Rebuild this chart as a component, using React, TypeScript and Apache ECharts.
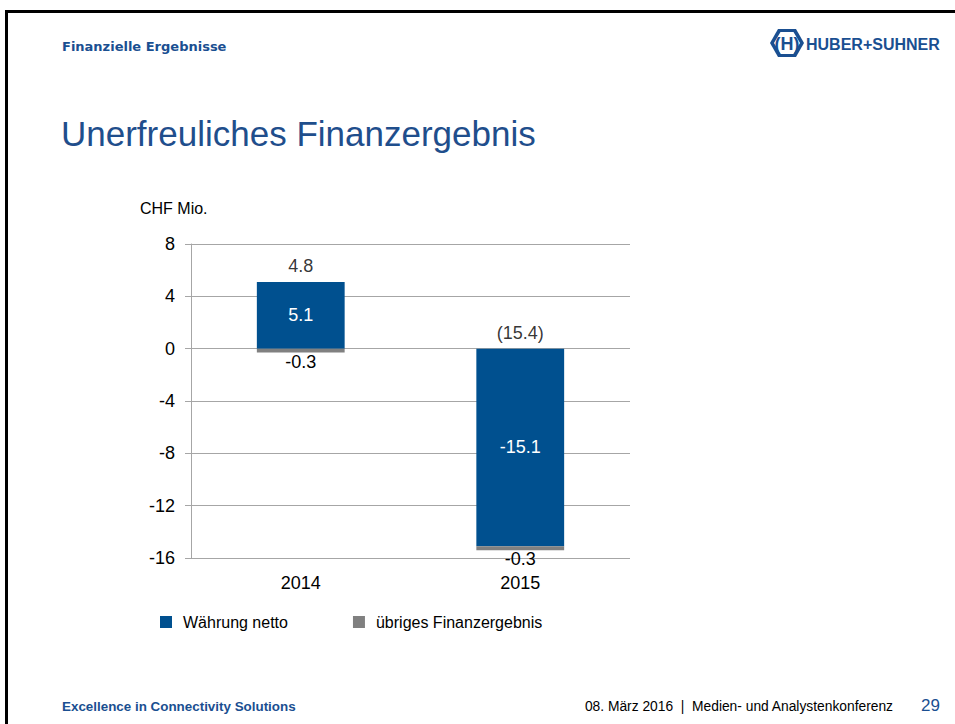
import React, { useEffect, useRef } from "react";
import * as echarts from "echarts";

const categories = ["2014", "2015"];
const waehrungNetto = [5.1, -15.1];
const uebrigesFinanzergebnis = [-0.3, -0.3];
const totals = [4.8, -15.4];
const yTicks = { min: -16, max: 8, interval: 4 };

const BLUE = "#00508f";
const GRAY = "#808080";
const FONT = "'Liberation Sans', Arial, sans-serif";

export default function App() {
  const ref = useRef<HTMLDivElement>(null);
  useEffect(() => {
    if (!ref.current) return;
    const chart = echarts.init(ref.current, undefined, { renderer: "svg" });
    const anchors = categories.map((_, i) =>
      Math.max(0, waehrungNetto[i]) + Math.max(0, uebrigesFinanzergebnis[i])
    );
    const fmtTotal = (v: number) => (v < 0 ? `(${Math.abs(v).toFixed(1)})` : v.toFixed(1));
    chart.setOption({
      animation: false,
      textStyle: { fontFamily: FONT },
      grid: { left: 191, right: 325, top: 244, bottom: 166, containLabel: false },
      legend: {
        data: ["Währung netto", "übriges Finanzergebnis"],
        left: 155,
        top: 609,
        icon: "rect",
        itemWidth: 12,
        itemHeight: 12,
        itemGap: 65,
        textStyle: { fontSize: 16, color: "#000", fontFamily: FONT, padding: [0, 0, 0, 6] },
        selectedMode: false,
      },
      xAxis: {
        type: "category",
        data: categories,
        axisLine: { show: false },
        axisTick: { show: false },
        axisLabel: { fontSize: 18, color: "#000", margin: 16, fontFamily: FONT },
      },
      yAxis: {
        type: "value",
        min: yTicks.min,
        max: yTicks.max,
        interval: yTicks.interval,
        axisLine: { show: true, lineStyle: { color: "#a6a6a6", width: 1 } },
        axisTick: { show: true, length: 6, lineStyle: { color: "#a6a6a6" } },
        splitLine: { show: true, lineStyle: { color: "#a6a6a6", width: 1 } },
        axisLabel: { fontSize: 18, color: "#000", margin: 16, fontFamily: FONT },
      },
      series: [
        {
          name: "Währung netto",
          type: "bar",
          stack: "a",
          barWidth: "40%",
          data: waehrungNetto,
          itemStyle: { color: BLUE },
          label: {
            show: true,
            position: "inside",
            color: "#fff",
            fontSize: 18,
            fontFamily: FONT,
            formatter: (p: any) => p.value.toFixed(1),
          },
        },
        {
          name: "übriges Finanzergebnis",
          type: "bar",
          stack: "a",
          barWidth: "40%",
          data: uebrigesFinanzergebnis,
          itemStyle: { color: GRAY },
          label: {
            show: true,
            position: "bottom",
            distance: 0,
            color: "#000",
            fontSize: 18,
            fontFamily: FONT,
            formatter: (p: any) => p.value.toFixed(1),
          },
        },
        {
          name: "Summe",
          type: "scatter",
          symbolSize: 1,
          silent: true,
          itemStyle: { color: "transparent" },
          data: categories.map((c, i) => [c, anchors[i]]),
          label: {
            show: true,
            position: "top",
            distance: 6,
            color: "#000",
            fontSize: 18,
            fontFamily: FONT,
            formatter: (p: any) => fmtTotal(totals[p.dataIndex]),
          },
        },
      ],
      graphic: [
        { type: "rect", shape: { x: 5, y: 10, width: 950, height: 3 }, style: { fill: "#000" } },
        { type: "rect", shape: { x: 5, y: 10, width: 3, height: 714 }, style: { fill: "#000" } },
        {
          type: "text",
          x: 62,
          y: 46,
          style: {
            text: "Finanzielle Ergebnisse",
            fontSize: 13,
            fontWeight: "bold",
            fontFamily: "'DejaVu Sans', Verdana, sans-serif",
            fill: "#1a4f91",
            verticalAlign: "middle",
          },
        },
        {
          type: "polygon",
          shape: {
            points: [
              [770, 43],
              [778, 29],
              [796, 29],
              [804, 43],
              [796, 57],
              [778, 57],
            ],
          },
          style: { fill: "#1a4f91" },
        },
        {
          type: "polygon",
          shape: {
            points: [
              [774, 43],
              [780.5, 32],
              [793.5, 32],
              [800, 43],
              [793.5, 54],
              [780.5, 54],
            ],
          },
          style: { fill: "#fff" },
        },
        {
          type: "text",
          x: 787,
          y: 44,
          style: {
            text: "(H)",
            fontSize: 18,
            fontWeight: "bold",
            fontFamily: FONT,
            fill: "#1a4f91",
            align: "center",
            verticalAlign: "middle",
          },
        },
        {
          type: "text",
          x: 806,
          y: 44,
          style: {
            text: "HUBER+SUHNER",
            fontSize: 16,
            fontWeight: "bold",
            fontFamily: FONT,
            fill: "#1a4f91",
            verticalAlign: "middle",
          },
        },
        {
          type: "text",
          x: 61,
          y: 133,
          style: {
            text: "Unerfreuliches Finanzergebnis",
            fontSize: 35,
            fontFamily: FONT,
            fill: "#1f4e8c",
            verticalAlign: "middle",
          },
        },
        {
          type: "text",
          x: 140,
          y: 208,
          style: {
            text: "CHF Mio.",
            fontSize: 16,
            fontFamily: FONT,
            fill: "#000",
            verticalAlign: "middle",
          },
        },
        {
          type: "text",
          x: 62,
          y: 706,
          style: {
            text: "Excellence in Connectivity Solutions",
            fontSize: 13.4,
            fontWeight: "bold",
            fontFamily: FONT,
            fill: "#1a4f91",
            verticalAlign: "middle",
          },
        },
        {
          type: "text",
          x: 893,
          y: 706,
          style: {
            text: "08. März 2016  |  Medien- und Analystenkonferenz",
            fontSize: 13.8,
            fontFamily: FONT,
            fill: "#000",
            align: "right",
            verticalAlign: "middle",
          },
        },
        {
          type: "text",
          x: 940,
          y: 705,
          style: {
            text: "29",
            fontSize: 17,
            fontFamily: FONT,
            fill: "#1a4f91",
            align: "right",
            verticalAlign: "middle",
          },
        },
      ],
    });
    return () => chart.dispose();
  }, []);
  return (
    <div
      ref={ref}
      style={{ position: "absolute", left: 0, top: 0, width: 955, height: 724, background: "#fff" }}
    />
  );
}
